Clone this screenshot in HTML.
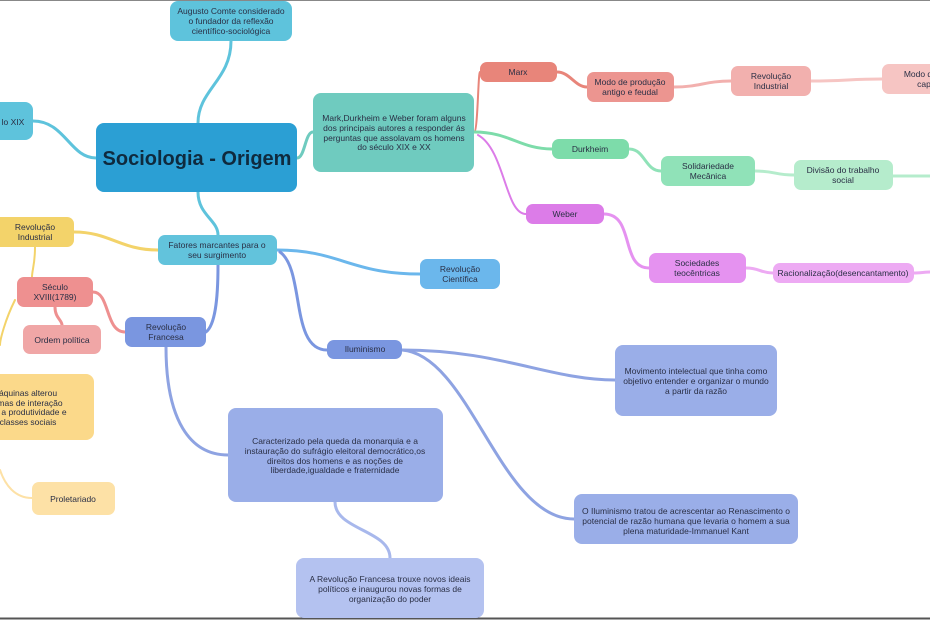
<!DOCTYPE html>
<html><head><meta charset="utf-8"><style>
body{margin:0;background:#fff}
svg{display:block}
text{font-family:"Liberation Sans",sans-serif;fill:#2a2f45;font-size:8.5px;text-anchor:middle}
</style></head><body>
<svg width="930" height="620" viewBox="0 0 930 620" xmlns="http://www.w3.org/2000/svg">
<rect width="930" height="620" fill="#fff"/>
<line x1="0" y1="0.5" x2="930" y2="0.5" stroke="#888" stroke-width="1"/>
<line x1="0" y1="618.5" x2="930" y2="618.5" stroke="#555" stroke-width="2"/>
<g fill="none" stroke-width="3" stroke-linecap="round">
<path d="M231 41 C231 80 198 90 198 123" stroke="#5ec3dc"/>
<path d="M33 121 C65 121 70 158 96 158" stroke="#5ec3dc"/>
<path d="M297 158 C305 158 305 132 313 132" stroke="#6fcbbf"/>
<path d="M198 192 C198 215 218 220 218 235" stroke="#5ec3dc"/>
<path d="M474 132 C478 132 478 72 480 72" stroke="#e8857a" stroke-width="2"/>
<path d="M557 72 C570 72 575 87 587 87" stroke="#e8857a"/>
<path d="M674 87 C700 87 705 81 731 81" stroke="#f2b0ae"/>
<path d="M811 81 C845 81 850 79 882 79" stroke="#f6c5c3"/>
<path d="M474 132 C510 132 520 149 552 149" stroke="#7ddcaa"/>
<path d="M629 149 C645 149 645 171 661 171" stroke="#90e2b8"/>
<path d="M755 171 C775 171 775 175 794 175" stroke="#b5eccc"/>
<path d="M893 176 C910 176 915 176 930 176" stroke="#b5eccc"/>
<path d="M478 135 C505 150 505 214 526 214" stroke="#dc7ce8" stroke-width="2"/>
<path d="M604 214 C635 214 620 268 649 268" stroke="#e592f0"/>
<path d="M746 268 C760 268 760 273 773 273" stroke="#edaaf3"/>
<path d="M914 273 C920 273 925 272 930 272" stroke="#edaaf3"/>
<path d="M277 250 C340 250 350 274 420 274" stroke="#6bb7ec"/>
<path d="M158 250 C120 250 110 232 74 232" stroke="#f3d36a"/>
<path d="M35 247 C35 265 32 270 32 277" stroke="#f3d36a" stroke-width="2"/>
<path d="M15 300 C5 320 0 340 0 345" stroke="#f3d36a" stroke-width="2"/>
<path d="M0 470 C5 485 15 498 32 498" stroke="#fde1a6" stroke-width="2"/>
<path d="M55 307 C55 318 62 320 62 325" stroke="#ee9090"/>
<path d="M93 292 C110 292 105 332 125 332" stroke="#ee9090"/>
<path d="M218 265 C218 300 215 325 206 332" stroke="#7a96e0"/>
<path d="M280 252 C305 270 290 350 327 350" stroke="#7a96e0"/>
<path d="M166 347 C166 420 190 455 228 455" stroke="#8ea3e2"/>
<path d="M402 350 C500 350 550 380 615 380" stroke="#8ea3e2"/>
<path d="M402 350 C470 355 500 519 574 519" stroke="#8ea3e2"/>
<path d="M335 502 C335 530 390 530 390 558" stroke="#a8b8ec"/>
</g>
<g>
<rect x="170" y="1" width="122" height="40" rx="8" fill="#5ec3dc"/>
<text x="231" y="14">Augusto Comte considerado</text><text x="231" y="24">o fundador da reflexão</text><text x="231" y="34">científico-sociológica</text>
<rect x="-10" y="102" width="43" height="38" rx="8" fill="#5ec3dc"/>
<text x="13" y="125">lo XIX</text>
<rect x="96" y="123" width="201" height="69" rx="8" fill="#2b9fd4"/>
<text x="197" y="165" style="font-size:20px;font-weight:bold;fill:#0f2a3e">Sociologia - Origem</text>
<rect x="313" y="93" width="161" height="79" rx="8" fill="#6fcbbf"/>
<text x="394" y="121">Mark,Durkheim e Weber foram alguns</text><text x="394" y="131">dos principais autores a responder ás</text><text x="394" y="141">perguntas que assolavam os homens</text><text x="394" y="150">do século XIX e XX</text>
<rect x="480" y="62" width="77" height="20" rx="7" fill="#e8857a"/><text x="518" y="75">Marx</text>
<rect x="587" y="72" width="87" height="30" rx="7" fill="#ec9590"/><text x="630" y="85">Modo de produção</text><text x="630" y="95">antigo e feudal</text>
<rect x="731" y="66" width="80" height="30" rx="7" fill="#f2b0ae"/><text x="771" y="79">Revolução</text><text x="771" y="89">Industrial</text>
<rect x="882" y="64" width="60" height="30" rx="7" fill="#f6c5c3"/><text x="918" y="77">Modo d</text><text x="924" y="87">cap</text>
<rect x="552" y="139" width="77" height="20" rx="7" fill="#7ddcaa"/><text x="590" y="152">Durkheim</text>
<rect x="661" y="156" width="94" height="30" rx="7" fill="#90e2b8"/><text x="708" y="169">Solidariedade</text><text x="708" y="179">Mecânica</text>
<rect x="794" y="160" width="99" height="30" rx="7" fill="#b5eccc"/><text x="843" y="173">Divisão do trabalho</text><text x="843" y="183">social</text>
<rect x="526" y="204" width="78" height="20" rx="7" fill="#dc7ce8"/><text x="565" y="217">Weber</text>
<rect x="649" y="253" width="97" height="30" rx="7" fill="#e592f0"/><text x="697" y="266">Sociedades</text><text x="697" y="276">teocêntricas</text>
<rect x="773" y="263" width="141" height="20" rx="7" fill="#edaaf3"/><text x="843" y="276">Racionalização(desencantamento)</text>
<rect x="158" y="235" width="119" height="30" rx="7" fill="#62c3dc"/><text x="217" y="248">Fatores marcantes para o</text><text x="217" y="258">seu surgimento</text>
<rect x="420" y="259" width="80" height="30" rx="7" fill="#6bb7ec"/><text x="460" y="272">Revolução</text><text x="460" y="282">Científica</text>
<rect x="-8" y="217" width="82" height="30" rx="7" fill="#f3d36a"/><text x="35" y="230">Revolução</text><text x="35" y="240">Industrial</text>
<rect x="17" y="277" width="76" height="30" rx="7" fill="#ee9090"/><text x="55" y="290">Século</text><text x="55" y="300">XVIII(1789)</text>
<rect x="23" y="325" width="78" height="29" rx="7" fill="#f0a6a6"/><text x="62" y="343">Ordem política</text>
<rect x="125" y="317" width="81" height="30" rx="7" fill="#7a96e0"/><text x="166" y="330">Revolução</text><text x="166" y="340">Francesa</text>
<rect x="327" y="340" width="75" height="19" rx="7" fill="#7a96e0"/><text x="365" y="352">Iluminismo</text>
<rect x="-10" y="374" width="104" height="66" rx="8" fill="#fbd98a"/>
<text x="28" y="396">áquinas alterou</text><text x="30" y="406">mas de interação</text><text x="34" y="415">a produtividade e</text><text x="28" y="425">classes sociais</text>
<rect x="32" y="482" width="83" height="33" rx="7" fill="#fde1a6"/><text x="73" y="502">Proletariado</text>
<rect x="228" y="408" width="215" height="94" rx="8" fill="#9aaee8"/>
<text x="335" y="444">Caracterizado pela queda da monarquia e a</text><text x="335" y="454">instauração do sufrágio eleitoral democrático,os</text><text x="335" y="464">direitos dos homens e as noções de</text><text x="335" y="473">liberdade,igualdade e fraternidade</text>
<rect x="615" y="345" width="162" height="71" rx="8" fill="#9aaee8"/>
<text x="696" y="374">Movimento intelectual que tinha como</text><text x="696" y="384">objetivo entender e organizar o mundo</text><text x="696" y="394">a partir da razão</text>
<rect x="574" y="494" width="224" height="50" rx="8" fill="#9aaee8"/>
<text x="686" y="514">O Iluminismo tratou de acrescentar ao Renascimento o</text><text x="686" y="524">potencial de razão humana que levaria o homem a sua</text><text x="686" y="534">plena maturidade-Immanuel Kant</text>
<rect x="296" y="558" width="188" height="60" rx="8" fill="#b4c2f0"/>
<text x="390" y="582">A Revolução Francesa trouxe novos ideais</text><text x="390" y="592">políticos e inaugurou novas formas de</text><text x="390" y="602">organização do poder</text>
</g>
</svg>
</body></html>
